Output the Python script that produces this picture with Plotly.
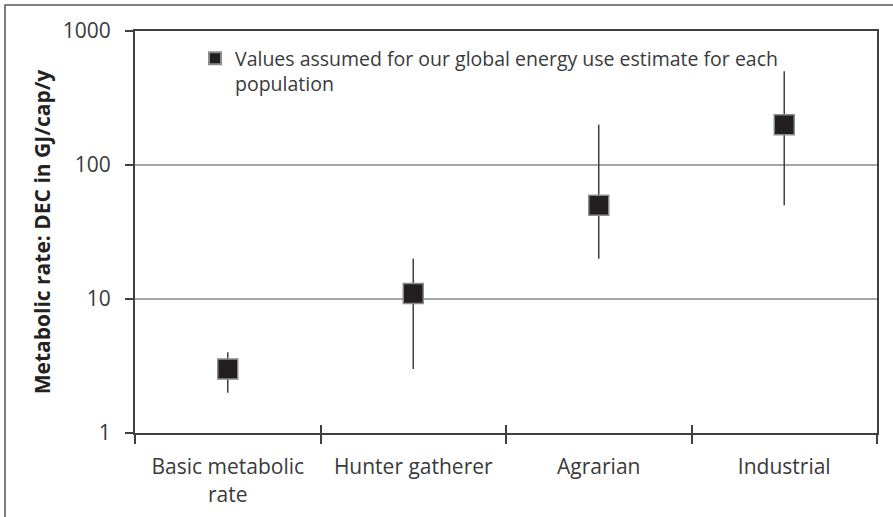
import plotly.graph_objects as go

categories = ["Basic metabolic<br>rate", "Hunter gatherer", "Agrarian", "Industrial"]
values = [3, 11, 50, 200]
upper = [4, 20, 200, 500]
lower = [2, 3, 20, 50]
y_ticks = [1, 10, 100, 1000]
legend_label = "Values assumed for our global energy use estimate for each<br>population"

err_plus = [u - v for u, v in zip(upper, values)]
err_minus = [v - l for v, l in zip(values, lower)]

W, H = 893, 517
ML, MR, MT, MB = 135, 16, 31, 84
PW, PH = W - ML - MR, H - MT - MB

FONT = "Open Sans"
TXT = "#3a3a3a"
AX = "#404040"

fig = go.Figure()
fig.add_trace(go.Scatter(
    x=categories, y=values, mode="markers", name=legend_label,
    marker=dict(symbol="square", size=20, color="#231f20",
                line=dict(color="#8c8c8c", width=1.5)),
    error_y=dict(type="data", symmetric=False, array=err_plus, arrayminus=err_minus,
                 color=AX, thickness=1.5, width=0),
))
# helper trace on overlay axis (for inward half of x ticks)
fig.add_trace(go.Scatter(x=categories, y=values, xaxis="x2", mode="markers",
                         marker=dict(opacity=0), showlegend=False, hoverinfo="skip"))

fig.update_layout(
    width=W, height=H,
    margin=dict(l=ML, r=MR, t=MT, b=MB, autoexpand=False),
    paper_bgcolor="white", plot_bgcolor="white",
    font=dict(family=FONT, color=TXT, size=20),
    showlegend=True,
    legend=dict(x=(195 - ML) / PW, y=1 - (39 - MT) / PH, xanchor="left", yanchor="top",
                bgcolor="rgba(0,0,0,0)", font=dict(size=19.5, color=TXT),
                itemsizing="constant", itemwidth=30, valign="top"),
    xaxis=dict(type="category", tickson="boundaries", ticks="outside", ticklen=9,
               tickwidth=1.5, tickcolor=AX, showline=True, linecolor=AX, linewidth=2,
               mirror=True, showgrid=False, range=[-0.5, 3.5], automargin=False,
               ticklabelstandoff=14,
               tickfont=dict(size=21, color=TXT)),
    xaxis2=dict(type="category", tickson="boundaries", ticks="inside", ticklen=8,
                tickwidth=1.5, tickcolor=AX, overlaying="x", anchor="y", automargin=False,
                showticklabels=False, showgrid=False, showline=False, range=[-0.5, 3.5]),
    yaxis=dict(type="log", range=[0, 3], tickvals=y_ticks, ticktext=[str(v) for v in y_ticks],
               ticks="outside", ticklen=8, tickwidth=1.5, tickcolor=AX,
               showline=True, linecolor=AX, linewidth=2, mirror=True,
               showgrid=True, gridcolor="#a6a6a6", gridwidth=1.5, automargin=False,
               ticklabelstandoff=10,
               tickfont=dict(size=21, color=TXT),
               title=dict(text="<b>Metabolic rate: DEC in GJ/cap/y</b>", standoff=6,
                          font=dict(size=21, color="#222222"))),
    shapes=[dict(type="rect", xref="paper", yref="paper",
                 x0=(5 - ML) / PW, x1=1 + (W + 10 - ML - PW) / PW,
                 y0=-(MB + 10) / PH, y1=1 + (MT - 5) / PH,
                 line=dict(color="#555555", width=1.5), layer="below")],
)

fig.write_html("out.html")
